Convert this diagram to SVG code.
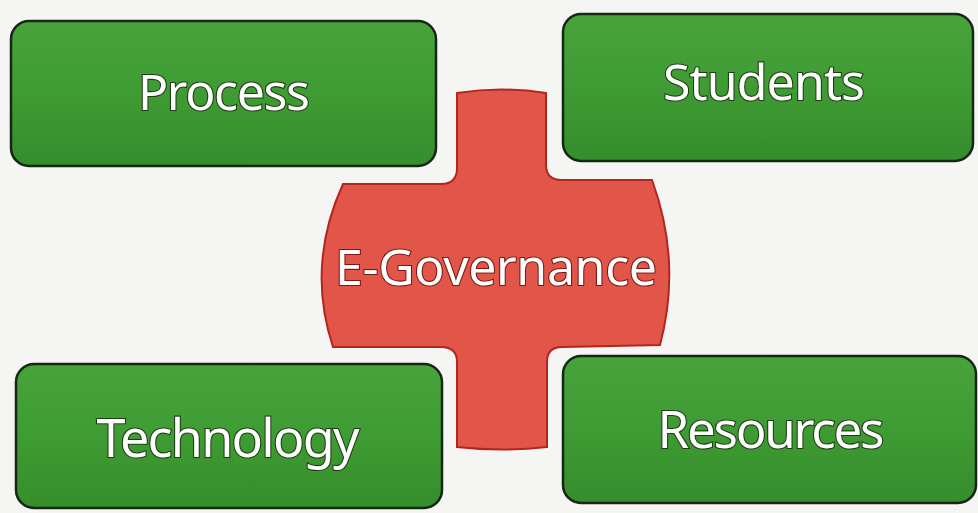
<svg xmlns="http://www.w3.org/2000/svg" width="978" height="513" viewBox="0 0 978 513">
<style>
.box{fill:url(#g);stroke:#142814;stroke-width:2.5}
.lbl{font-family:"Noto Sans","DejaVu Sans",sans-serif;fill:#ffffff;stroke:#1f3d14;stroke-width:2.2;paint-order:stroke;text-anchor:middle}
.hub{fill:#e2564a;stroke:#b3261e;stroke-width:2}
.hubl{stroke:#7a1a14}
</style>
<defs>
<linearGradient id="g" x1="0" y1="0" x2="0" y2="1">
<stop offset="0" stop-color="#48a33b"/>
<stop offset="0.5" stop-color="#3f9b33"/>
<stop offset="1" stop-color="#358d2c"/>
</linearGradient>
</defs>
<rect width="978" height="513" fill="#f5f5f3"/>
<g id="connectors"></g>
<g id="hub">
<path class="hub" d="M457,93 Q501,86 546,93 L546,165 Q546,180 562,180 L652,180 Q682,262 660,345 L562,347 Q547,347 547,362 L547,447 Q502,452 457,447 L457,362 Q457,347 441,347 L333,347 Q306,265 343,184 L441,184 Q457,184 457,168 Z"/>
<text class="lbl hubl" x="496" y="285" font-size="50" textLength="322">E-Governance</text>
</g>
<g id="process">
<rect class="box" x="11" y="21" width="425" height="145" rx="18"/>
<text class="lbl" x="224" y="110" font-size="50" textLength="172">Process</text>
</g>
<g id="students">
<rect class="box" x="563" y="14" width="410" height="147" rx="18"/>
<text class="lbl" x="764" y="100" font-size="50" textLength="202">Students</text>
</g>
<g id="technology">
<rect class="box" x="16" y="364" width="426" height="144" rx="18"/>
<text class="lbl" x="228" y="457" font-size="52" textLength="263">Technology</text>
</g>
<g id="resources">
<rect class="box" x="563" y="356" width="413" height="147" rx="18"/>
<text class="lbl" x="771" y="448" font-size="51" textLength="227">Resources</text>
</g>
</svg>
